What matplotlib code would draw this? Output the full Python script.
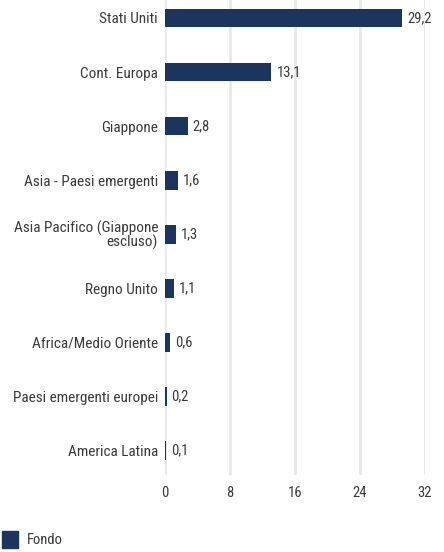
import matplotlib
matplotlib.use("Agg")
import matplotlib.pyplot as plt
from matplotlib import font_manager
from matplotlib.patches import Rectangle

categories = ["Stati Uniti", "Cont. Europa", "Giappone", "Asia - Paesi emergenti",
              "Asia Pacifico (Giappone\nescluso)", "Regno Unito", "Africa/Medio Oriente",
              "Paesi emergenti europei", "America Latina"]
values = [29.2, 13.1, 2.8, 1.6, 1.3, 1.1, 0.6, 0.2, 0.1]
value_labels = ["29,2", "13,1", "2,8", "1,6", "1,3", "1,1", "0,6", "0,2", "0,1"]
xticks = [0, 8, 16, 24, 32]
series_name = "Fondo"

names = {f.name for f in font_manager.fontManager.ttflist}
condensed = [n for n in ["Roboto Condensed", "Open Sans Condensed", "Liberation Sans Narrow"] if n in names]
if condensed:
    fam = [condensed[0], "DejaVu Sans"]
    lab_size = 11
else:
    fam = ["Roboto", "DejaVu Sans"]
    lab_size = 9.4
plt.rcParams['font.family'] = fam

color = "#1c355e"
txt = "#3a3a3a"

fig = plt.figure(figsize=(4.44, 5.52), dpi=100)
ax = fig.add_axes([165/444, 1 - 475/552, (425 - 165)/444, 475/552])

y = list(range(len(categories)))
ax.barh(y, values, height=0.35, color=color, zorder=3)
for yi, v, lab in zip(y, values, value_labels):
    ax.text(v + 0.6, yi, lab, va="center", ha="left", fontsize=10.5, color=txt)

ax.set_xlim(0, 32)
ax.set_ylim(8.46, -0.333)
ax.set_xticks(xticks)
ax.set_xticklabels([str(t) for t in xticks], fontsize=10.5, color=txt)
ax.set_yticks(y)
ax.set_yticklabels(categories, fontsize=lab_size, color=txt, linespacing=0.9)
ax.tick_params(axis="both", length=0, pad=5)
ax.tick_params(axis="x", pad=8)
ax.grid(axis="x", color="#e8e8e8", linewidth=2, zorder=0)
for s in ax.spines.values():
    s.set_visible(False)

fig.patches.append(Rectangle((2/444, 1 - 548/552), 16/444, 17/552,
                             transform=fig.transFigure, color=color))
fig.text(27/444, 1 - 540/552, series_name, fontsize=10.5, color=txt, va="center", ha="left")

fig.savefig("out.png", dpi=100)
